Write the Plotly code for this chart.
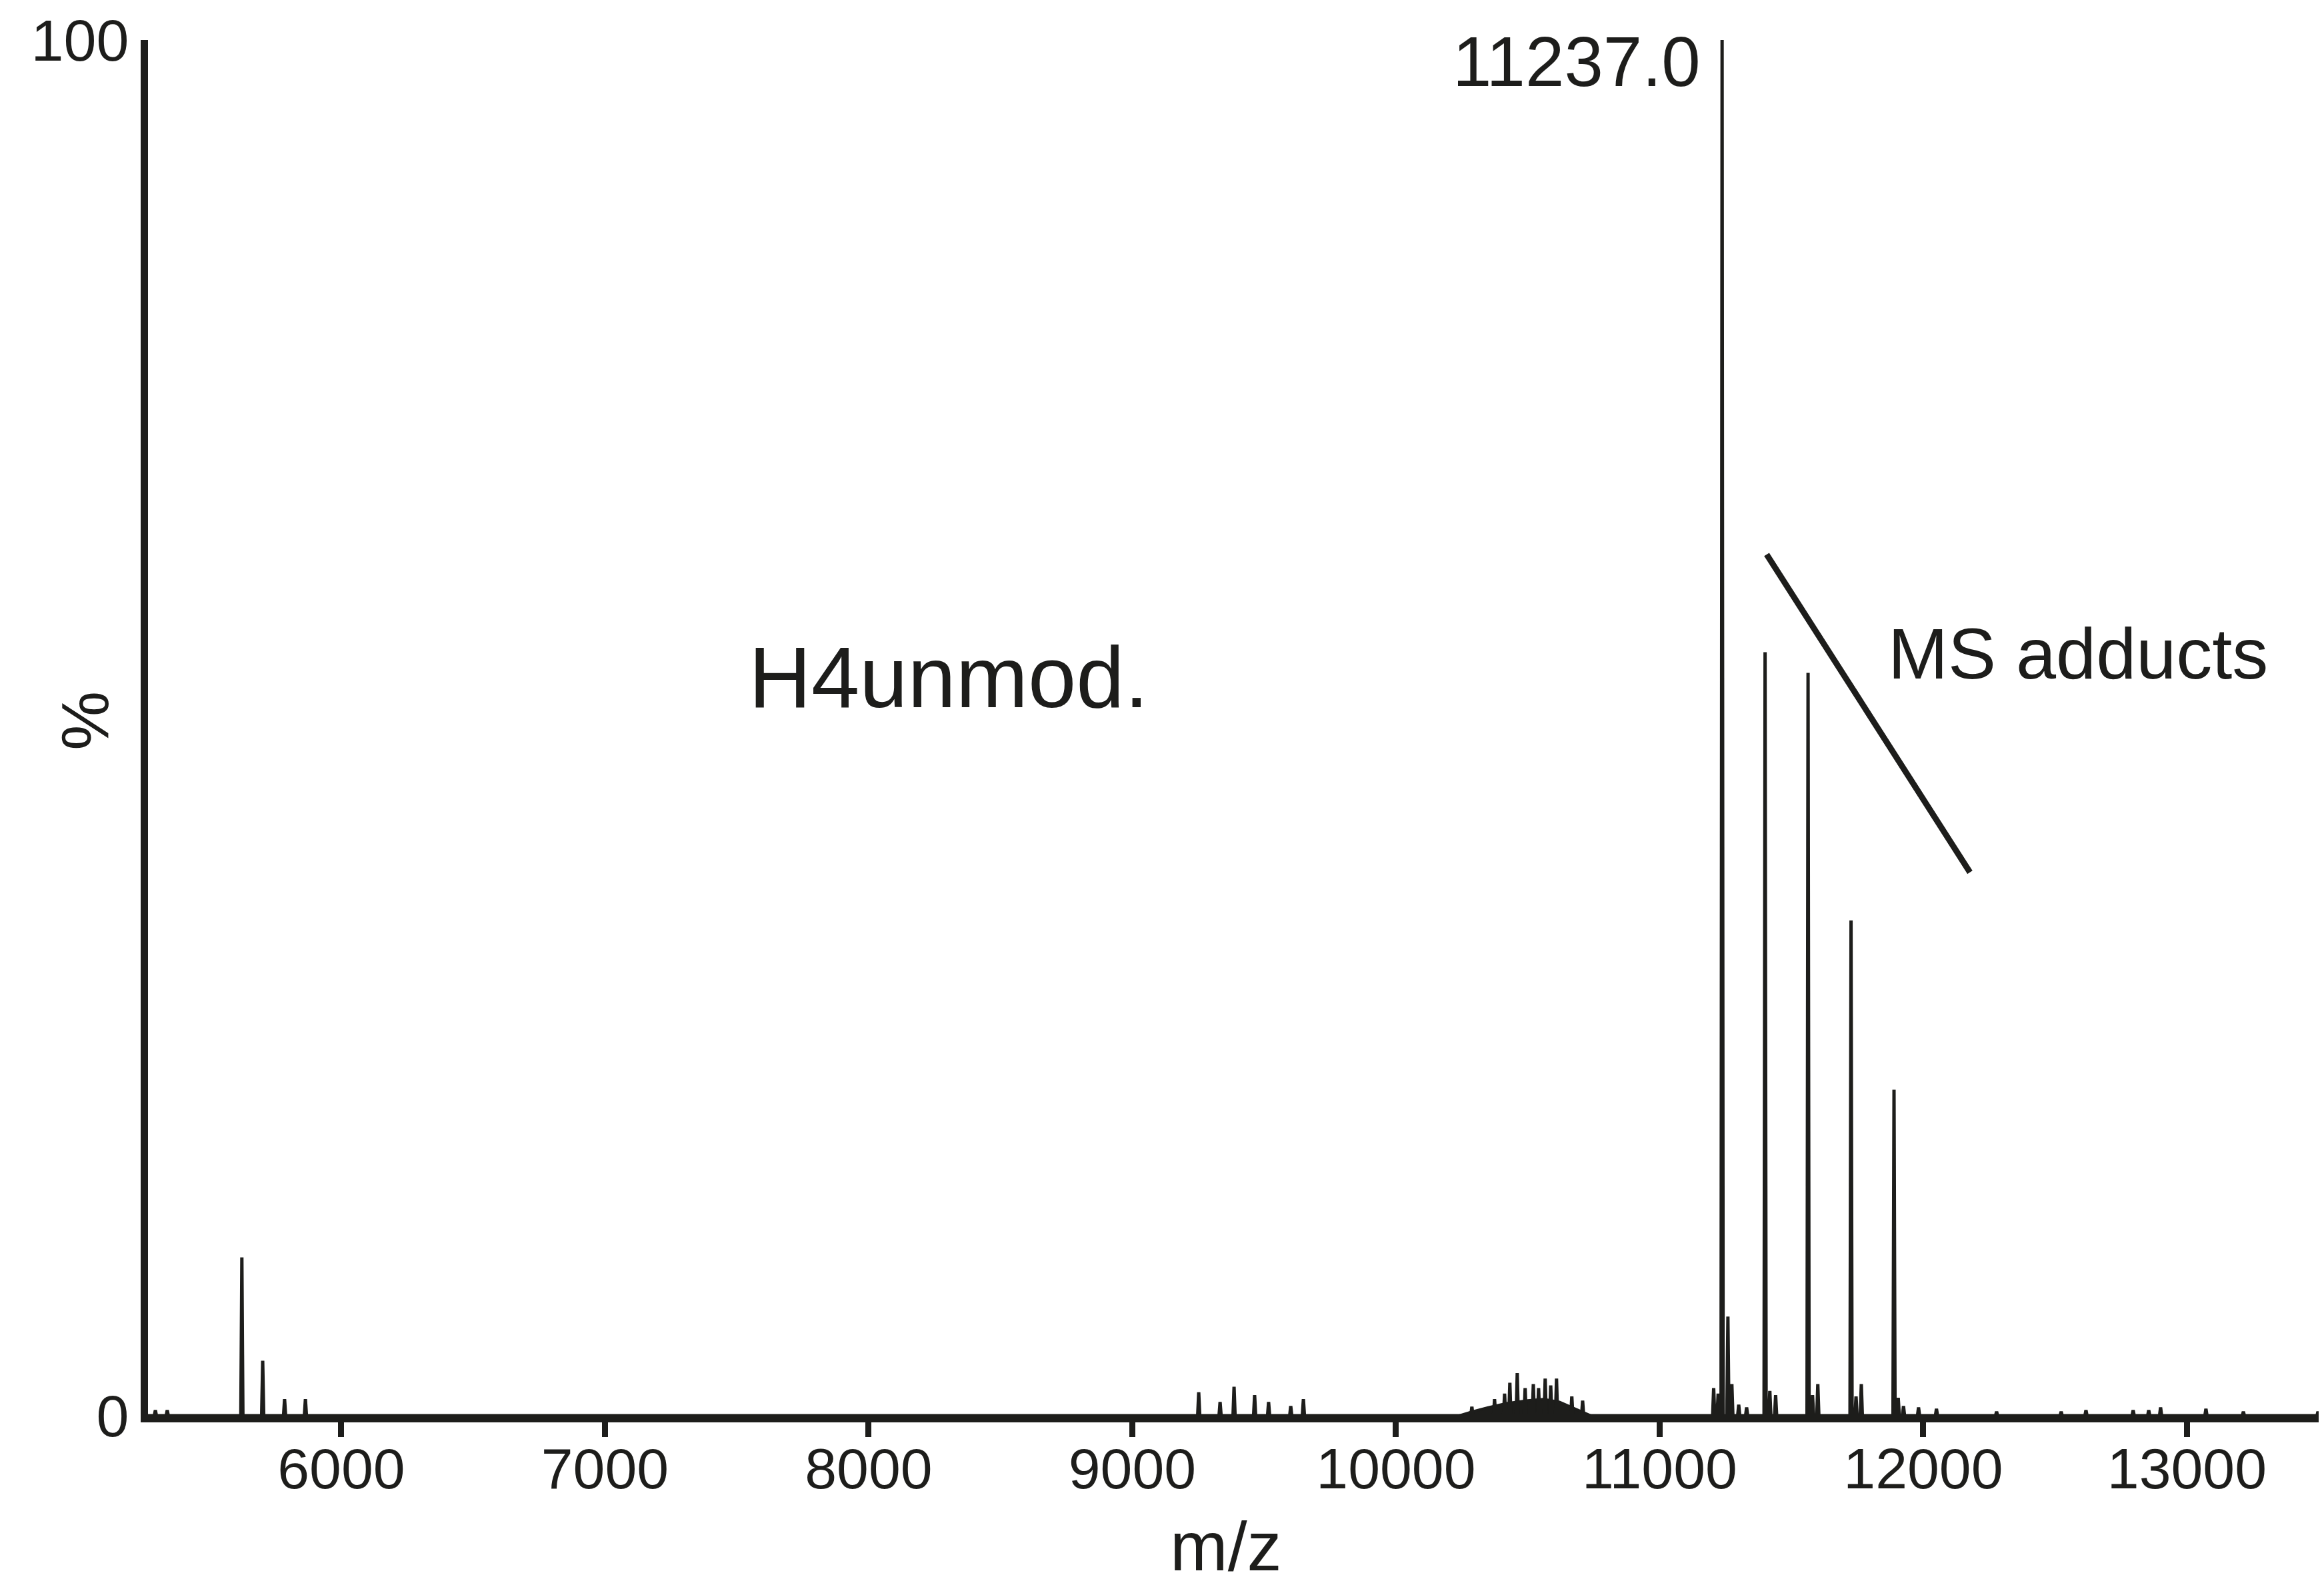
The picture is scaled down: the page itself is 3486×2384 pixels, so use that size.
import plotly.graph_objects as go

# ---- data ----
peak_mz = [5295, 5340, 5623, 5702, 5785, 5864,
           9252, 9333, 9386, 9464, 9517, 9601, 9649,
           10288, 10374, 10412, 10432, 10460, 10490, 10521, 10541, 10566, 10587, 10609, 10667, 10708,
           11205, 11222, 11237, 11259, 11274, 11300, 11330,
           11400, 11418, 11440,
           11563, 11580, 11600,
           11726, 11745, 11765,
           11889, 11905, 11925, 11982, 12050,
           12278, 12523, 12617, 12796, 12855, 12900, 13072, 13214, 13497]
peak_int = [0.4, 0.4, 11.5, 4.0, 1.2, 1.2,
            1.7, 1.0, 2.1, 1.5, 1.0, 0.7, 1.2,
            0.65, 1.2, 1.6, 2.4, 3.1, 2.0, 2.3, 2.0, 2.7, 2.2, 2.7, 1.4, 1.1,
            2.0, 1.6, 100.0, 7.2, 2.3, 0.8, 0.6,
            55.5, 1.8, 1.5,
            54.0, 1.5, 2.3,
            36.0, 1.4, 2.3,
            23.7, 1.3, 0.7, 0.6, 0.5,
            0.3, 0.3, 0.4, 0.4, 0.4, 0.6, 0.5, 0.3, 0.3]

hump_mz = [10240, 10290, 10350, 10420, 10500, 10560, 10620, 10680, 10740]
hump_int = [0, 0.3, 0.6, 0.9, 1.1, 1.2, 1.0, 0.5, 0]

x_ticks = [6000, 7000, 8000, 9000, 10000, 11000, 12000, 13000]
x_tick_labels = ["6000", "7000", "8000", "9000", "10000", "11000", "12000", "13000"]
y_ticks = [0, 100]
y_tick_labels = ["0", "100"]

base_peak_label = "11237.0"
sample_label = "H4unmod."
adduct_label = "MS adducts"

X_RANGE = [5267, 13540]
Y_RANGE = [0, 100]

FONT = "Liberation Sans, Arial, Helvetica, sans-serif"
INK = "#1d1d1b"
HALF_WIDTH = 4  # Da, visual half-width of each stick

# stick spectrum built from the peak list
pairs = sorted(zip(peak_mz, peak_int))
xs, ys = [X_RANGE[0]], [0]
for m, h in pairs:
    xs += [m - HALF_WIDTH, m, m + HALF_WIDTH]
    ys += [0, h, 0]
xs.append(X_RANGE[1])
ys.append(0)

fig = go.Figure()
fig.add_trace(go.Scatter(x=hump_mz, y=hump_int, mode="lines", fill="tozeroy",
                         fillcolor=INK, line=dict(color=INK, width=4),
                         hoverinfo="skip", showlegend=False))
fig.add_trace(go.Scatter(x=xs, y=ys, mode="lines",
                         line=dict(color=INK, width=5), showlegend=False))

fig.update_layout(
    width=3486, height=2384,
    margin=dict(l=214, r=0, t=52, b=268),
    paper_bgcolor="white", plot_bgcolor="white",
    font=dict(family=FONT, color=INK, size=88),
    xaxis=dict(range=X_RANGE, showline=True, linewidth=10, linecolor=INK,
               ticks="outside", ticklen=22, tickwidth=9, tickcolor=INK,
               tickvals=x_ticks, ticktext=x_tick_labels, ticklabelstandoff=-26,
               tickfont=dict(size=86, family=FONT, color=INK),
               showgrid=False, zeroline=False),
    yaxis=dict(range=Y_RANGE, showline=True, linewidth=11, linecolor=INK,
               ticks="", tickvals=y_ticks, ticktext=y_tick_labels,
               tickfont=dict(size=88, family=FONT, color=INK),
               showgrid=False, zeroline=False),
)

fig.add_annotation(x=11237, y=100, xref="x", yref="y", text=base_peak_label,
                   showarrow=False, xanchor="right", yanchor="middle",
                   xshift=-30, yshift=-32, font=dict(size=105, family=FONT, color=INK))
fig.add_annotation(x=8303, y=53.7, xref="x", yref="y", text=sample_label,
                   showarrow=False, xanchor="center", yanchor="middle",
                   font=dict(size=130, family=FONT, color=INK))
fig.add_annotation(x=12587, y=55.4, xref="x", yref="y", text=adduct_label,
                   showarrow=False, xanchor="center", yanchor="middle",
                   font=dict(size=108, family=FONT, color=INK))
fig.add_shape(type="line", xref="x", yref="y", x0=11406, y0=62.6, x1=12177, y1=39.5,
              line=dict(color=INK, width=9))

# axis titles
fig.add_annotation(x=0.4943, y=-0.095, xref="paper", yref="paper", text="m/z",
                   showarrow=False, xanchor="center", yanchor="middle",
                   font=dict(size=104, family=FONT, color=INK))
fig.add_annotation(x=-0.029, y=0.505, xref="paper", yref="paper", text="%",
                   showarrow=False, xanchor="center", yanchor="middle", textangle=-90,
                   font=dict(size=100, family=FONT, color=INK))

fig.write_html("out.html")
